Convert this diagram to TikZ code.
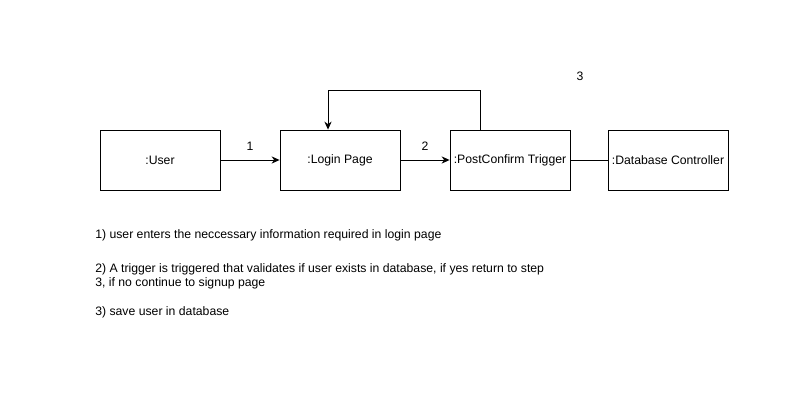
\documentclass[tikz,border=0pt]{standalone}
\usepackage{fontspec}
\setmainfont{Liberation Sans}
\usetikzlibrary{arrows.meta}
\tikzset{
	objbox/.style={draw, line width=0.6pt, minimum width=3cm, minimum height=1.5cm, inner sep=0pt, font=\fontsize{8.7}{10.4}\selectfont},
	msg/.style={line width=0.6pt, -{Stealth[length=2mm,width=1.8mm]}},
	lbl/.style={font=\fontsize{8.7}{10.4}\selectfont, inner sep=0pt},
	note/.style={font=\fontsize{8.7}{10.4}\selectfont, inner sep=0pt, anchor=west}
}
\begin{document}
\begin{tikzpicture}[x=0.025cm, y=-0.025cm]
			%%%%% START %%%%%
			
			\useasboundingbox[fill=white] (0, 0) rectangle (800, 400);
			
			\node[objbox] (user) at (160, 160) {:User};
			\node[objbox] (login) at (340, 160) {:Login Page};
			\node[objbox] (trig) at (510, 160) {:PostConfirm Trigger};
			\node[objbox] (dbctl) at (668, 160) {:Database Controller};
			
			\coordinate (loopR) at (480, 90);
			\coordinate (loopL) at (328, 90);
			
			\draw[msg] (user) -- (login);
			\draw[msg] (login) -- (trig);
			\draw[line width=0.6pt] (trig) -- (dbctl);
			\draw[msg] (trig.north -| loopR) -- (loopR) -- (loopL) -- (login.north -| loopL);
			
			\node[lbl] (n1) at (250, 146) {1};
			\node[lbl] (n2) at (425, 146) {2};
			\node[lbl] (n3) at (580, 76) {3};
			
			\node[note] (s1) at (95, 235) {1) user enters the neccessary information required in login page};
			\node[note] (s2a) at (95, 269) {2) A trigger is triggered that validates if user exists in database, if yes return to step};
			\node[note] (s2b) at (95, 283) {3, if no continue to signup page};
			\node[note] (s3) at (95, 312) {3) save user in database};
			
			%%%%% END %%%%%
\end{tikzpicture}
\end{document}
